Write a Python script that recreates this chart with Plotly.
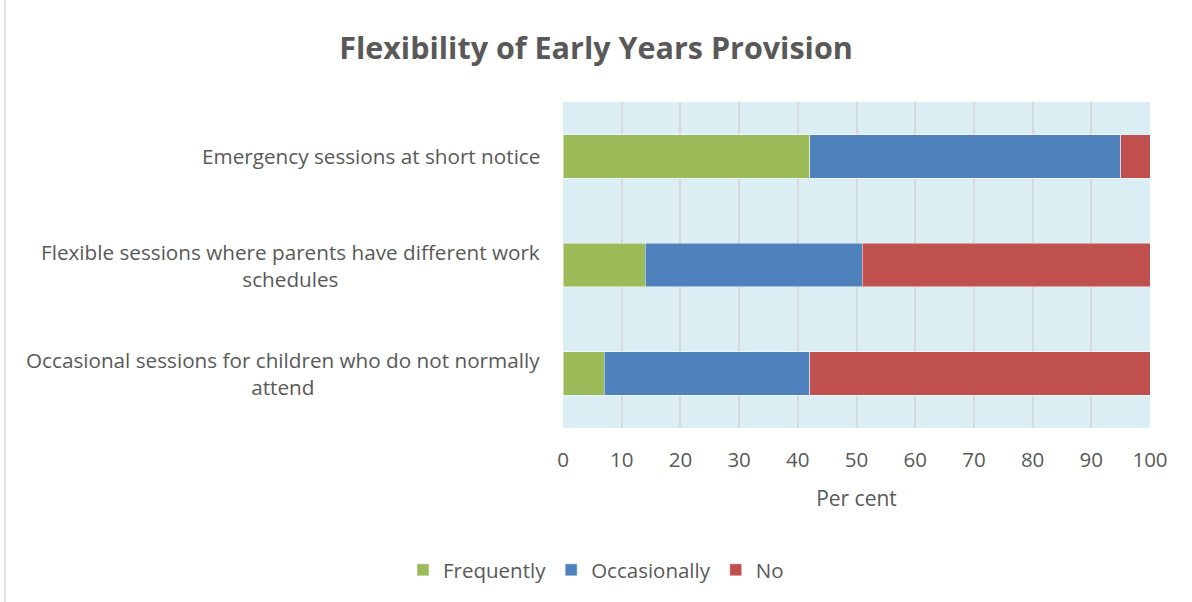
import plotly.graph_objects as go

# Survey results, per cent of providers
categories = [
    "Emergency sessions at short notice",
    "Flexible sessions where parents have different work<br>schedules",
    "Occasional sessions for children who do not normally<br>attend",
]
frequently = [42, 14, 7]
occasionally = [53, 37, 35]
no = [5, 49, 58]
x_ticks = [0, 10, 20, 30, 40, 50, 60, 70, 80, 90, 100]

series = [
    ("Frequently", frequently, "#9BBB59"),
    ("Occasionally", occasionally, "#4F81BD"),
    ("No", no, "#C0504D"),
]

FONT = "Open Sans"
TEXT = "#595959"
W, H = 1192, 602
ML, MR, MT, MB = 563, 42, 102, 174

fig = go.Figure()
for name, vals, color in series:
    fig.add_trace(go.Bar(
        name=name, y=categories, x=vals, orientation="h",
        marker=dict(color=color, line=dict(color="rgba(255,255,255,0.6)", width=0.8)),
        hoverinfo="x+name",
    ))

# Category labels, centred line by line and right-aligned against the plot
for cat in categories:
    fig.add_annotation(
        x=0, xref="paper", y=cat, yref="y", xanchor="right", yanchor="middle",
        xshift=-21, text=cat, showarrow=False, align="center",
        font=dict(family=FONT, size=20.7, color=TEXT),
    )

# Thin chart border on the left edge
px = (5 - ML) / (W - ML - MR)
fig.add_shape(type="line", xref="paper", yref="paper", x0=px, x1=px, y0=-2, y1=2,
              line=dict(color="#D9D9D9", width=1.5))

fig.update_layout(
    width=W, height=H,
    margin=dict(l=ML, r=MR, t=MT, b=MB),
    barmode="stack", bargap=0.6,
    paper_bgcolor="white", plot_bgcolor="#DAEEF3",
    font=dict(family=FONT, color=TEXT),
    title=dict(
        text="<b>Flexibility of Early Years Provision</b>",
        x=0.5, xref="container", xanchor="center",
        y=1 - 48 / H, yref="container", yanchor="middle",
        font=dict(family=FONT, size=30.5, color=TEXT),
    ),
    xaxis=dict(
        range=[0, 100], tickvals=x_ticks, showgrid=True, gridcolor="#D9D9D9", gridwidth=1.5,
        zeroline=False, showline=False, ticks="", ticklabelstandoff=17,
        tickfont=dict(family=FONT, size=20.5, color=TEXT),
        title=dict(text="Per cent", font=dict(family=FONT, size=21, color=TEXT), standoff=19),
    ),
    yaxis=dict(
        categoryorder="array", categoryarray=categories[::-1],
        showticklabels=False, showgrid=False, zeroline=False, showline=False,
    ),
    legend=dict(
        orientation="h", x=0.5, xref="container", xanchor="center",
        y=1 - 570 / H, yref="container", yanchor="middle",
        font=dict(family=FONT, size=20.5, color=TEXT),
        itemwidth=30, traceorder="normal",
    ),
    showlegend=True,
)

fig.write_html("out.html")
